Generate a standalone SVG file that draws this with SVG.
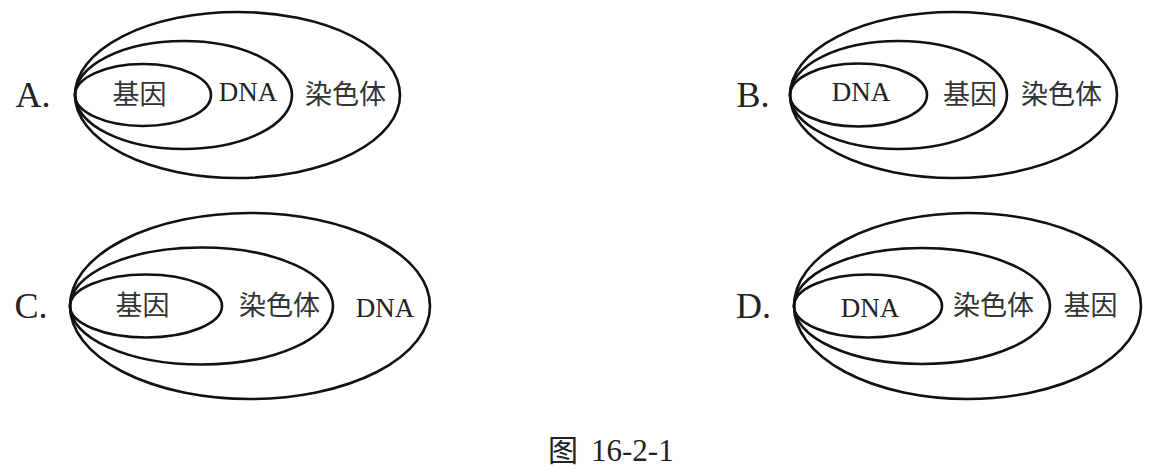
<svg xmlns="http://www.w3.org/2000/svg" width="1152" height="472" viewBox="0 0 1152 472">
<style>
  .e { fill: none; stroke: #111; stroke-width: 2.6; }
  .opt { font-family: "Liberation Serif", serif; font-size: 36px; fill: #222; text-anchor: middle; }
  .lat { font-family: "Liberation Serif", serif; font-size: 27px; fill: #222; text-anchor: middle; }
  .cjk { font-family: "Noto Sans CJK SC", sans-serif; font-size: 27px; fill: #333; text-anchor: middle; }
  .cap { font-family: "Liberation Serif", "Noto Sans CJK SC", serif; font-size: 30px; fill: #222; }
</style>
<rect width="1152" height="472" fill="#fff"/>
<g id="panelA">
  <ellipse class="e" cx="237.5" cy="95" rx="162.5" ry="83"/>
  <ellipse class="e" cx="183.5" cy="95" rx="108.5" ry="54"/>
  <ellipse class="e" cx="143" cy="95" rx="68" ry="31"/>
  <text class="opt" x="33" y="107">A.</text>
  <text class="cjk" x="139.5" y="104">基因</text>
  <text class="lat" x="248" y="101">DNA</text>
  <text class="cjk" x="345.5" y="104">染色体</text>
</g>
<g id="panelB">
  <ellipse class="e" cx="953.5" cy="95" rx="163.5" ry="83"/>
  <ellipse class="e" cx="898.5" cy="95" rx="108.5" ry="54"/>
  <ellipse class="e" cx="858.5" cy="95" rx="68.5" ry="31.5"/>
  <text class="opt" x="753" y="107">B.</text>
  <text class="lat" x="861" y="101">DNA</text>
  <text class="cjk" x="970" y="104">基因</text>
  <text class="cjk" x="1061.5" y="104">染色体</text>
</g>
<g id="panelC">
  <ellipse class="e" cx="250" cy="306" rx="180" ry="93"/>
  <ellipse class="e" cx="201.5" cy="306" rx="131.5" ry="58.5"/>
  <ellipse class="e" cx="146" cy="306" rx="76" ry="31.5"/>
  <text class="opt" x="31" y="318">C.</text>
  <text class="cjk" x="142.5" y="315">基因</text>
  <text class="cjk" x="279.5" y="315">染色体</text>
  <text class="lat" x="385" y="317">DNA</text>
</g>
<g id="panelD">
  <ellipse class="e" cx="967.5" cy="306" rx="173.5" ry="93"/>
  <ellipse class="e" cx="922" cy="306" rx="128" ry="58"/>
  <ellipse class="e" cx="868" cy="306" rx="74" ry="31.5"/>
  <text class="opt" x="753.5" y="318">D.</text>
  <text class="lat" x="870" y="317">DNA</text>
  <text class="cjk" x="993.5" y="315">染色体</text>
  <text class="cjk" x="1090.5" y="315">基因</text>
</g>
<g id="connectors"></g>
<g id="caption">
  <text class="cap" x="548" y="461">图 <tspan x="591" font-size="31">16-2-1</tspan></text>
</g>
</svg>
